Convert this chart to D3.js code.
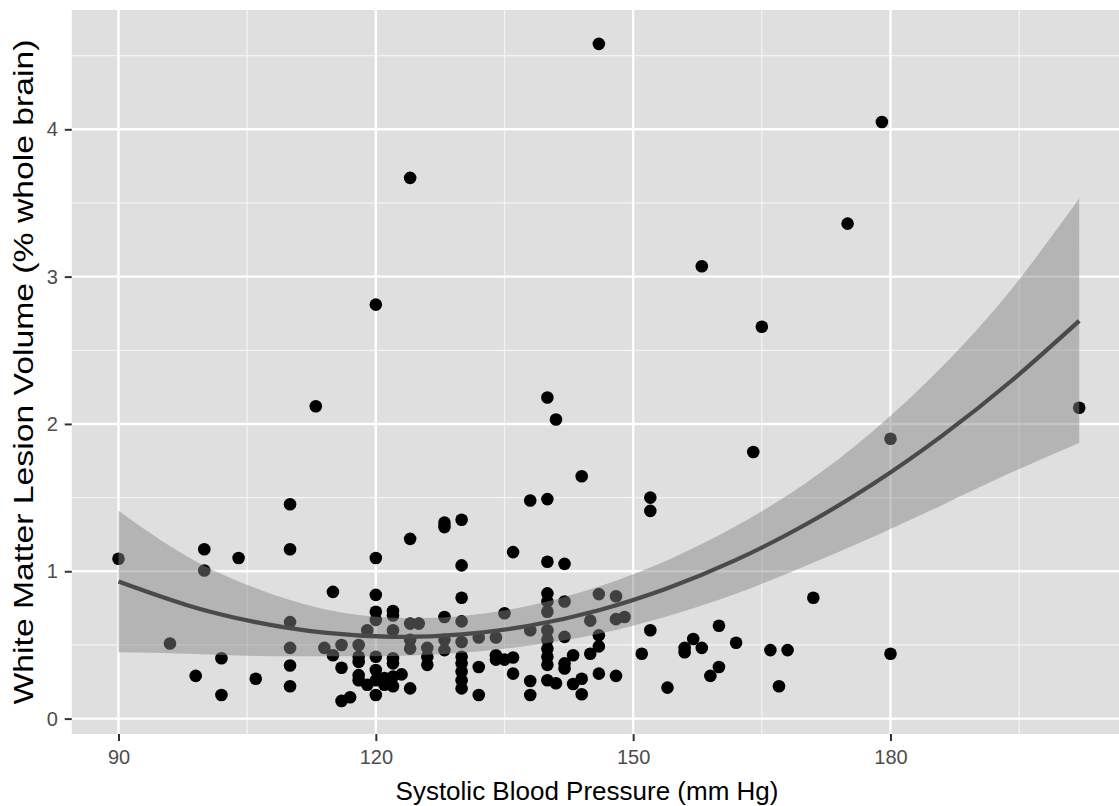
<!DOCTYPE html>
<html>
<head>
<meta charset="utf-8">
<script src="https://cdn.jsdelivr.net/npm/d3@7"></script>
<style>
  html, body { margin: 0; padding: 0; background: #ffffff; }
  svg { display: block; }
</style>
</head>
<body>
<svg id="chart" width="1119" height="806"></svg>
<script>
// ---- data ----
const sbp = [90,96,99,100,100,102,102,104,106,110,110,110,110,110,110,113,114,115,115,116,116,116,117,118,118,118,118,118,119,119,
  120,120,120,120,120,120,120,120,120,121,121,122,122,122,122,122,122,122,123,124,124,124,124,124,124,125,126,126,126,
  128,128,128,128,128,130,130,130,130,130,130,130,130,130,130,132,132,132,134,134,134,135,135,136,136,136,
  138,138,138,138,140,140,140,140,140,140,140,140,140,140,140,140,141,141,142,142,142,142,142,143,143,144,144,144,
  145,145,146,146,146,146,146,148,148,148,149,151,152,152,152,154,156,156,157,158,158,159,160,160,162,164,165,166,167,168,
  171,175,179,180,180,202];
const wmlv = [1.085,0.51,0.29,1.15,1.005,0.41,0.16,1.09,0.27,1.455,1.15,0.655,0.48,0.36,0.22,2.12,0.48,0.86,0.43,0.50,0.345,0.12,0.145,0.50,0.42,0.385,0.295,0.26,0.60,0.23,
  2.81,1.09,0.84,0.725,0.67,0.42,0.33,0.26,0.16,0.275,0.23,0.73,0.70,0.60,0.41,0.375,0.285,0.22,0.30,3.67,1.22,0.645,0.535,0.475,0.205,0.645,0.48,0.42,0.365,
  1.33,1.30,0.69,0.535,0.465,1.35,1.04,0.82,0.66,0.52,0.42,0.375,0.32,0.26,0.205,0.55,0.35,0.16,0.55,0.43,0.40,0.715,0.40,1.13,0.415,0.305,
  1.48,0.60,0.255,0.16,2.18,1.49,1.065,0.85,0.795,0.725,0.60,0.535,0.475,0.42,0.365,0.26,2.03,0.24,1.05,0.795,0.555,0.375,0.34,0.43,0.235,1.645,0.27,0.165,
  0.665,0.44,4.58,0.845,0.565,0.49,0.305,0.83,0.675,0.29,0.69,0.44,1.50,1.41,0.60,0.21,0.48,0.45,0.54,3.07,0.48,0.29,0.63,0.35,0.515,1.81,2.66,0.465,0.22,0.465,
  0.82,3.36,4.05,1.90,0.44,2.11];

// fitted curve and its confidence band, read at several x positions
const fitX     = [90, 98, 106, 114, 122, 130, 138, 146, 154, 162, 170, 178, 186, 194, 202];
const fitY     = [0.93, 0.77, 0.655, 0.583, 0.555, 0.572, 0.632, 0.736, 0.885, 1.077, 1.314, 1.594, 1.919, 2.288, 2.70];
const fitLower = [0.45, 0.44, 0.425, 0.423, 0.425, 0.447, 0.497, 0.576, 0.695, 0.847, 1.034, 1.234, 1.449, 1.668, 1.87];
const fitUpper = [1.41, 1.10, 0.885, 0.743, 0.685, 0.697, 0.767, 0.896, 1.075, 1.307, 1.594, 1.954, 2.389, 2.908, 3.53];

const xTicks = [90, 120, 150, 180];
const xMinor = [105, 135, 165, 195];
const yTicks = [0, 1, 2, 3, 4];
const yMinor = [0.5, 1.5, 2.5, 3.5, 4.5];
const xTitle = "Systolic Blood Pressure (mm Hg)";
const yTitle = "White Matter Lesion Volume (% whole brain)";

// ---- drawing ----
const svg = d3.select("#chart");
const W = 1119, H = 806;
const x = d3.scaleLinear().domain([90, 180]).range([118.5, 890.5]);
const y = d3.scaleLinear().domain([0, 4]).range([718.6, 129.3]);

const xLo = 84.55, xHi = 210, yLo = -0.105, yHi = 4.81;
const pL = x(xLo), pR = Math.min(W, x(xHi)), pT = y(yHi), pB = y(yLo);

svg.append("defs").append("clipPath").attr("id", "clip")
  .append("rect").attr("x", pL).attr("y", pT).attr("width", pR - pL).attr("height", pB - pT);

svg.append("rect").attr("x", pL).attr("y", pT).attr("width", pR - pL).attr("height", pB - pT)
  .attr("fill", "#dfdfdf");

const grid = svg.append("g").attr("clip-path", "url(#clip)");
grid.selectAll(".xmin").data(xMinor).enter().append("line")
  .attr("x1", d => x(d)).attr("x2", d => x(d)).attr("y1", pT).attr("y2", pB)
  .attr("stroke", "#f4f4f4").attr("stroke-width", 1.2);
grid.selectAll(".ymin").data(yMinor).enter().append("line")
  .attr("y1", d => y(d)).attr("y2", d => y(d)).attr("x1", pL).attr("x2", pR)
  .attr("stroke", "#f4f4f4").attr("stroke-width", 1.2);
grid.selectAll(".xmaj").data(xTicks).enter().append("line")
  .attr("x1", d => x(d)).attr("x2", d => x(d)).attr("y1", pT).attr("y2", pB)
  .attr("stroke", "#ffffff").attr("stroke-width", 2.4);
grid.selectAll(".ymaj").data(yTicks).enter().append("line")
  .attr("y1", d => y(d)).attr("y2", d => y(d)).attr("x1", pL).attr("x2", pR)
  .attr("stroke", "#ffffff").attr("stroke-width", 2.4);

const plot = svg.append("g").attr("clip-path", "url(#clip)");
const pts = sbp.map((v, i) => ({x: v, y: wmlv[i]}));
plot.selectAll("circle").data(pts).enter().append("circle")
  .attr("cx", d => x(d.x)).attr("cy", d => y(d.y)).attr("r", 6.3)
  .attr("fill", "#000000");

const band = fitX.map((v, i) => ({x: v, f: fitY[i], lo: fitLower[i], hi: fitUpper[i]}));
plot.append("path").datum(band)
  .attr("d", d3.area().x(d => x(d.x)).y0(d => y(d.lo)).y1(d => y(d.hi)).curve(d3.curveNatural))
  .attr("fill", "#858585").attr("fill-opacity", 0.48);
plot.append("path").datum(band)
  .attr("d", d3.line().x(d => x(d.x)).y(d => y(d.f)).curve(d3.curveNatural))
  .attr("fill", "none").attr("stroke", "#4a4a4a").attr("stroke-width", 4.2);

// axes
const font = "'Liberation Sans', Arial, Helvetica, sans-serif";
const xAxis = svg.append("g").attr("transform", `translate(0,${pB})`)
  .call(d3.axisBottom(x).tickValues(xTicks).tickSize(7).tickPadding(9).tickFormat(d3.format("d")));
const yAxis = svg.append("g").attr("transform", `translate(${pL},0)`)
  .call(d3.axisLeft(y).tickValues(yTicks).tickSize(7).tickPadding(7).tickFormat(d3.format("d")));
[xAxis, yAxis].forEach(a => {
  a.select(".domain").remove();
  a.selectAll(".tick line").attr("stroke", "#333333").attr("stroke-width", 2);
  a.selectAll(".tick text").attr("fill", "#4d4d4d").style("font-family", font).style("font-size", "20px");
});

svg.append("text").attr("x", 587).attr("y", 800).attr("text-anchor", "middle")
  .style("font-family", font).style("font-size", "26px").attr("fill", "#000")
  .text(xTitle);
svg.append("text").attr("transform", `translate(33,${(pT + pB) / 2}) rotate(-90)`)
  .attr("text-anchor", "middle")
  .attr("textLength", 665).attr("lengthAdjust", "spacingAndGlyphs")
  .style("font-family", font).style("font-size", "27px").attr("fill", "#000")
  .text(yTitle);
</script>
</body>
</html>
